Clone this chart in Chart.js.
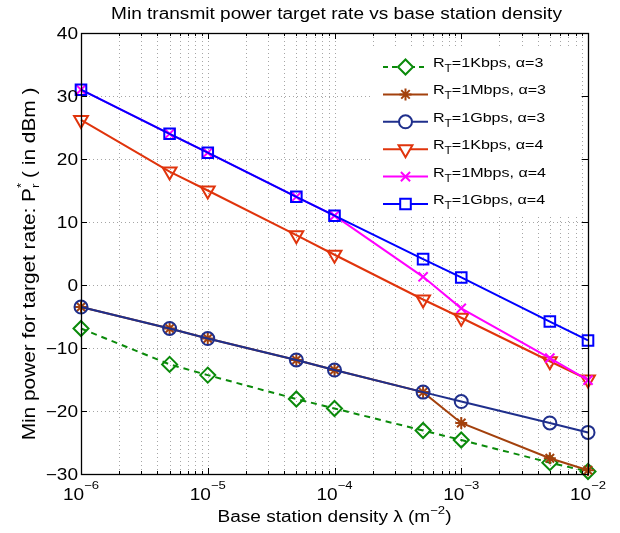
<!DOCTYPE html>
<html>
<head>
<meta charset="utf-8">
<script src="https://cdn.jsdelivr.net/npm/chart.js@4.4.0/dist/chart.umd.min.js"></script>
<style>
  body { margin: 0; background: #fff; }
  canvas { display: block; }
</style>
</head>
<body>
<canvas id="myChart" width="620" height="533"></canvas>
<script>
// base station density (x) and min power in dBm (y) per curve
var densities = [1e-6, 5e-6, 1e-5, 5e-5, 1e-4, 5e-4, 1e-3, 5e-3, 1e-2];
var kbpsA3 = [-6.9, -12.6, -14.3, -18.1, -19.6, -23.1, -24.6, -28.2, -29.6];
var mbpsA3 = [-3.5, -6.9, -8.5, -11.9, -13.5, -17.0, -21.9, -27.5, -29.4];
var gbpsA3 = [-3.5, -6.9, -8.5, -11.9, -13.5, -17.0, -18.5, -21.9, -23.4];
var kbpsA4 = [26.2, 18.0, 15.0, 7.9, 4.8, -2.3, -5.2, -12.1, -15.0];
var mbpsA4 = [31.0, 24.0, 21.0, 14.0, 11.0, 1.3, -3.7, -11.6, -15.1];
var gbpsA4 = [31.0, 24.0, 21.0, 14.0, 11.0, 4.1, 1.2, -5.8, -8.8];

var rates = ['1Kbps', '1Mbps', '1Gbps', '1Kbps', '1Mbps', '1Gbps'];
var alphas = [3, 3, 3, 4, 4, 4];
var yTicks = [-30, -20, -10, 0, 10, 20, 30, 40];
var xDecades = [-6, -5, -4, -3, -2];

var series = [kbpsA3, mbpsA3, gbpsA3, kbpsA4, mbpsA4, gbpsA4];
var colors = ['#0a8a0a', '#a3410d', '#1f2f8c', '#e0340c', '#ff00ff', '#0000ff'];
var markers = [
  { style: 'rectRot', radius: 7.5, rot: 0 },
  { style: 'star', radius: 6, rot: 0 },
  { style: 'circle', radius: 6.5, rot: 0 },
  { style: 'triangle', radius: 8, rot: 180 },
  { style: 'crossRot', radius: 6.5, rot: 0 },
  { style: 'rect', radius: 7.5, rot: 0 }
];

var FONT = '"Liberation Sans", Arial, sans-serif';
var SX = 1.19; // the matlab text is rendered wider than Arial
function font(px) { return px + 'px ' + FONT; }

function seg(ctx, x1, y1, x2, y2) {
  ctx.beginPath();
  ctx.moveTo(x1, y1);
  ctx.lineTo(x2, y2);
  ctx.stroke();
}

function text(ctx, str, x, y) {
  ctx.save();
  ctx.translate(x, y);
  ctx.scale(SX, 1);
  ctx.fillText(str, 0, 0);
  ctx.restore();
}

// draws pieces of text [{t, size, dy}] one after another, returns width
function drawParts(ctx, parts, x, y, measureOnly) {
  var cx = x;
  parts.forEach(function (p) {
    ctx.font = font(p.size);
    if (!measureOnly) text(ctx, p.t, cx, y + (p.dy || 0));
    cx += ctx.measureText(p.t).width * SX;
  });
  return cx - x;
}

var matlabAxes = {
  id: 'matlabAxes',
  beforeDatasetsDraw: function (chart) {
    var ctx = chart.ctx, a = chart.chartArea;
    var xs = chart.scales.x, ys = chart.scales.y;
    ctx.save();
    ctx.strokeStyle = '#a6a6a6';
    ctx.lineWidth = 1;
    ctx.setLineDash([1, 3]);
    xDecades.forEach(function (d) {
      for (var m = 1; m < 10; m++) {
        var px = Math.round(xs.getPixelForValue(m * Math.pow(10, d))) + 0.5;
        if (px <= a.left + 1 || px >= a.right - 1) continue;
        seg(ctx, px, a.top, px, a.bottom);
      }
    });
    yTicks.forEach(function (v) {
      var py = Math.round(ys.getPixelForValue(v)) + 0.5;
      if (py <= a.top + 1 || py >= a.bottom - 1) return;
      seg(ctx, a.left, py, a.right, py);
    });
    ctx.restore();
  },
  afterDraw: function (chart) {
    var ctx = chart.ctx, a = chart.chartArea;
    var xs = chart.scales.x, ys = chart.scales.y;
    ctx.save();
    ctx.setLineDash([]);
    ctx.strokeStyle = '#000';
    ctx.fillStyle = '#000';
    ctx.lineWidth = 1;

    // tick marks, inward on all sides
    xDecades.forEach(function (d) {
      for (var m = 1; m < 10; m++) {
        var px = Math.round(xs.getPixelForValue(m * Math.pow(10, d))) + 0.5;
        if (px < a.left - 1 || px > a.right + 1) continue;
        var len = m === 1 ? 6 : 3;
        seg(ctx, px, a.bottom, px, a.bottom - len);
        seg(ctx, px, a.top, px, a.top + len);
      }
    });
    yTicks.forEach(function (v) {
      var py = Math.round(ys.getPixelForValue(v)) + 0.5;
      seg(ctx, a.left, py, a.left + 6, py);
      seg(ctx, a.right, py, a.right - 6, py);
    });

    // box
    ctx.lineWidth = 1.3;
    ctx.strokeRect(Math.round(a.left) + 0.5, Math.round(a.top) + 0.5,
      Math.round(a.right - a.left), Math.round(a.bottom - a.top));

    // y tick labels
    ctx.font = font(16);
    ctx.textAlign = 'right';
    ctx.textBaseline = 'middle';
    yTicks.forEach(function (v) {
      var py = ys.getPixelForValue(v);
      text(ctx, String(v).replace('-', '\u2212'), a.left - 3, py + 2);
    });

    // x tick labels 10^d
    ctx.textAlign = 'left';
    ctx.textBaseline = 'alphabetic';
    xDecades.forEach(function (d) {
      var px = xs.getPixelForValue(Math.pow(10, d));
      var parts = [{ t: '10', size: 16 }, { t: '\u2212' + (-d), size: 11, dy: -11 }];
      var w = drawParts(ctx, parts, 0, 0, true);
      drawParts(ctx, parts, px - w / 2, 500);
    });

    // title
    ctx.font = font(16);
    ctx.textAlign = 'center';
    text(ctx, 'Min transmit power target rate vs base station density', (a.left + a.right) / 2 + 2, 19);

    // x axis title
    ctx.textAlign = 'left';
    var xt = [{ t: 'Base station density \u03bb (m', size: 16 }, { t: '\u22122', size: 11, dy: -8 }, { t: ')', size: 16 }];
    var xw = drawParts(ctx, xt, 0, 0, true);
    drawParts(ctx, xt, (a.left + a.right) / 2 - xw / 2, 522);

    // y axis title, rotated
    ctx.save();
    ctx.translate(35, 264);
    ctx.rotate(-Math.PI / 2);
    var yt = 'Min power for target rate: P';
    ctx.font = font(17.5);
    var w1 = ctx.measureText(yt).width * SX;
    var w3 = ctx.measureText(' ( in dBm )').width * SX;
    ctx.font = font(11);
    var w2 = ctx.measureText('r').width * SX;
    var sx = -(w1 + w2 + w3) / 2;
    ctx.font = font(17.5);
    text(ctx, yt, sx, 0);
    ctx.font = font(11);
    text(ctx, 'r', sx + w1, 4);
    text(ctx, '*', sx + w1, -10);
    ctx.font = font(17.5);
    text(ctx, ' ( in dBm )', sx + w1 + w2, 0);
    ctx.restore();

    // legend
    ctx.fillStyle = '#fff';
    ctx.fillRect(372, 48, 206, 168);
    for (var i = 0; i < series.length; i++) {
      var ly = 67 + i * 27.4;
      ctx.strokeStyle = colors[i];
      ctx.lineWidth = 2;
      ctx.setLineDash(i === 0 ? [5, 4] : []);
      seg(ctx, 383, ly, 428, ly);
      ctx.setLineDash([]);
      ctx.fillStyle = '#fff';
      Chart.helpers.drawPoint(ctx, {
        pointStyle: markers[i].style,
        rotation: markers[i].rot,
        radius: markers[i].radius,
        borderWidth: 2
      }, 405.5, ly);
      ctx.fillStyle = '#000';
      drawParts(ctx, [
        { t: 'R', size: 13.5 },
        { t: 'T', size: 10, dy: 5 },
        { t: '=' + rates[i] + ', \u03b1=' + alphas[i], size: 13.5 }
      ], 433, ly);
    }
    ctx.restore();
  }
};

var datasets = series.map(function (vals, i) {
  return {
    label: 'R_T=' + rates[i] + ', alpha=' + alphas[i],
    data: vals.map(function (v, j) { return { x: densities[j], y: v }; }),
    borderColor: colors[i],
    borderWidth: 2,
    borderDash: i === 0 ? [6, 5] : [],
    pointStyle: markers[i].style,
    pointRadius: markers[i].radius,
    pointRotation: markers[i].rot,
    pointBorderWidth: 2,
    pointBorderColor: colors[i],
    pointBackgroundColor: 'rgba(0,0,0,0)',
    fill: false,
    tension: 0,
    clip: false,
    order: series.length - i
  };
});

var ctx = document.getElementById('myChart').getContext('2d');
var myChart = new Chart(ctx, {
  type: 'line',
  data: { datasets: datasets },
  options: {
    responsive: false,
    devicePixelRatio: 1,
    animation: false,
    events: [],
    layout: { padding: { left: 81, right: 32, top: 33, bottom: 59 } },
    scales: {
      x: { type: 'logarithmic', min: 1e-6, max: 1e-2, display: false },
      y: { type: 'linear', min: -30, max: 40, display: false }
    },
    plugins: {
      legend: { display: false },
      tooltip: { enabled: false }
    }
  },
  plugins: [matlabAxes]
});
</script>
</body>
</html>
